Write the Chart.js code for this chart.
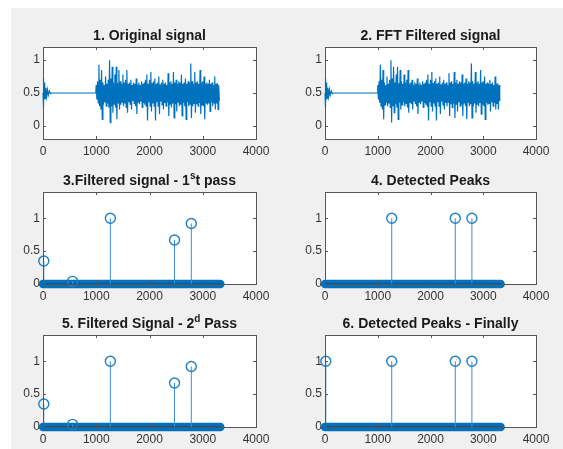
<!DOCTYPE html>
<html>
<head>
<meta charset="utf-8">
<script src="https://cdn.jsdelivr.net/npm/chart.js@4.4.1/dist/chart.umd.min.js"></script>
<style>
  body { margin: 0; background: #fff; width: 563px; height: 449px; overflow: hidden; position: relative; }
  #fig { position: absolute; left: 11px; top: 8px; right: 0; bottom: 0; background: #f0f0f0; }
  canvas { position: absolute; }
</style>
</head>
<body>
<div id="fig"></div>
<canvas id="c1"></canvas>
<canvas id="c2"></canvas>
<canvas id="c3"></canvas>
<canvas id="c4"></canvas>
<canvas id="c5"></canvas>
<canvas id="c6"></canvas>
<script>
// Axis ticks
const xTicks = [0, 1000, 2000, 3000, 4000];
const yTicks = [0, 0.5, 1];

// Signal: start of recording (x, y), then flat until the burst
const introX = [0, 5, 10, 15, 20, 28, 35, 45, 55, 70, 85, 100, 120, 140, 160, 990];
const introY = [0.5, 0.28, 0.72, 0.35, 0.66, 0.4, 0.62, 0.42, 0.58, 0.45, 0.55, 0.47, 0.53, 0.49, 0.5, 0.5];

// Burst from 1000 on, read every 25 samples: upper and lower swing
const burstStart = 1000;
const burstStep = 25;
const burstHi = [0.62, 0.68, 0.93, 0.70, 0.85, 0.66, 0.62, 0.75, 0.64, 0.70,
  1.00, 0.72, 0.90, 0.66, 0.78, 0.90, 0.65, 0.85, 0.68, 0.64,
  0.78, 0.66, 0.70, 0.85, 0.64, 0.66, 0.70, 0.62, 0.66, 0.64,
  0.72, 0.63, 0.66, 0.62, 0.68, 0.64, 0.66, 0.70, 0.78, 0.64,
  0.70, 0.82, 0.65, 0.68, 0.72, 0.64, 0.66, 0.75, 0.63, 0.66,
  0.70, 0.64, 0.66, 0.62, 0.80, 0.66, 0.68, 0.64, 0.82, 0.66,
  0.70, 0.64, 0.68, 0.66, 0.78, 0.64, 0.66, 0.72, 0.64, 0.68,
  0.66, 0.95, 0.68, 0.64, 0.82, 0.66, 0.68, 0.64, 0.85, 0.66,
  0.68, 0.75, 0.64, 0.66, 0.64, 0.70, 0.64, 0.66, 0.62, 0.75,
  0.64, 0.65, 0.62];
const burstLo = [0.40, 0.35, 0.30, 0.25, 0.10, 0.32, 0.36, 0.30, 0.34, 0.28,
  0.05, 0.30, 0.20, 0.33, 0.28, 0.10, 0.35, 0.25, 0.32, 0.36,
  0.30, 0.34, 0.28, 0.20, 0.36, 0.33, 0.25, 0.38, 0.34, 0.30,
  0.18, 0.36, 0.33, 0.37, 0.28, 0.35, 0.32, 0.30, 0.08, 0.36,
  0.30, 0.22, 0.34, 0.30, 0.08, 0.36, 0.30, 0.18, 0.37, 0.32,
  0.25, 0.35, 0.30, 0.36, 0.15, 0.33, 0.28, 0.34, 0.12, 0.33,
  0.22, 0.36, 0.30, 0.32, 0.15, 0.35, 0.30, 0.10, 0.36, 0.30,
  0.33, 0.12, 0.30, 0.34, 0.20, 0.33, 0.30, 0.35, 0.18, 0.32,
  0.30, 0.10, 0.35, 0.32, 0.34, 0.22, 0.36, 0.30, 0.35, 0.25,
  0.34, 0.25, 0.38];

// Stem plots
const pass1X = [15, 555, 1265, 2470, 2785];
const pass1Y = [0.35, 0.04, 1, 0.67, 0.92];
const peaksX = [1265, 2470, 2785];
const peaksY = [1, 1, 1];
const finalX = [15, 1265, 2470, 2785];
const finalY = [1, 1, 1, 1];
const zeroRangeX = [0, 3330];

const blue = '#0072bd';

const signalPoints = introX.map((x, i) => ({ x, y: introY[i] }));
burstHi.forEach((h, i) => {
  const x = burstStart + i * burstStep;
  signalPoints.push({ x, y: h });
  signalPoints.push({ x: x + burstStep / 2, y: burstLo[i] });
});

function signalSets() {
  return [{
    data: signalPoints, showLine: true, borderColor: blue, borderWidth: 1.2,
    pointRadius: 0, clip: false
  }];
}

function stemSets(xs, ys) {
  const sets = [{
    data: xs.map((x, i) => ({ x, y: ys[i] })), showLine: false,
    pointStyle: 'circle', pointRadius: 5, borderColor: '#1f80c4', borderWidth: 1.4,
    backgroundColor: 'rgba(0,0,0,0)', clip: false
  }];
  xs.forEach((x, i) => {
    sets.push({
      data: [{ x, y: 0 }, { x, y: ys[i] }], showLine: true,
      borderColor: '#3d8fcc', borderWidth: 1, pointRadius: 0, clip: false
    });
  });
  sets.push({
    data: zeroRangeX.map(x => ({ x, y: 0 })), showLine: true,
    borderColor: '#1a4a78', borderWidth: 1.5, pointRadius: 0, clip: false
  });
  sets.push({
    data: zeroRangeX.map(x => ({ x, y: 0 })), showLine: true,
    borderColor: blue, borderWidth: 8.5, borderCapStyle: 'round', pointRadius: 0, clip: false
  });
  return sets;
}

// Box, inward ticks and title, MATLAB style
const axesPlugin = {
  id: 'axesBox',
  beforeDatasetsDraw(chart) {
    const { ctx, chartArea: a } = chart;
    ctx.save();
    ctx.fillStyle = '#fff';
    ctx.fillRect(a.left, a.top, a.right - a.left, a.bottom - a.top);
    ctx.restore();
  },
  afterDraw(chart) {
    const { ctx, chartArea: a, scales } = chart;
    ctx.save();
    ctx.strokeStyle = '#555';
    ctx.lineWidth = 1;
    ctx.strokeRect(a.left + 0.5, a.top + 0.5, a.right - a.left, a.bottom - a.top);
    ctx.beginPath();
    xTicks.forEach(v => {
      const px = Math.round(scales.x.getPixelForValue(v)) + 0.5;
      ctx.moveTo(px, a.top); ctx.lineTo(px, a.top + 3);
      ctx.moveTo(px, a.bottom); ctx.lineTo(px, a.bottom - 3);
    });
    yTicks.forEach(v => {
      const py = Math.round(scales.y.getPixelForValue(v)) + 0.5;
      ctx.moveTo(a.left, py); ctx.lineTo(a.left + 3, py);
      ctx.moveTo(a.right, py); ctx.lineTo(a.right - 3, py);
    });
    ctx.stroke();

    const parts = chart.options.plugins.axesBox.title;
    const big = 'bold 14px "Liberation Sans", Arial, sans-serif';
    const small = 'bold 10px "Liberation Sans", Arial, sans-serif';
    let total = 0;
    parts.forEach(p => { ctx.font = p.sup ? small : big; total += ctx.measureText(p.t).width; });
    let x = (a.left + a.right) / 2 - total / 2;
    const y = a.top - 11;
    ctx.fillStyle = '#1a1a1a';
    ctx.textBaseline = 'middle';
    ctx.textAlign = 'left';
    parts.forEach(p => {
      ctx.font = p.sup ? small : big;
      ctx.fillText(p.t, x, p.sup ? y - 5 : y);
      x += ctx.measureText(p.t).width;
    });
    ctx.restore();
  }
};

function makeChart(id, left, top, width, title, datasets, yMin, yMax) {
  const padL = 40, padT = 30, padR = 24, padB = 22;
  const cv = document.getElementById(id);
  cv.width = width + padL + padR;
  cv.height = 92 + padT + padB;
  cv.style.left = (left - padL) + 'px';
  cv.style.top = (top - padT) + 'px';
  cv.style.width = cv.width + 'px';
  cv.style.height = cv.height + 'px';
  const tickFont = { family: '"Liberation Sans", Arial, sans-serif', size: 12 };
  return new Chart(cv, {
    type: 'scatter',
    data: { datasets },
    plugins: [axesPlugin],
    options: {
      responsive: false,
      animation: false,
      events: [],
      layout: { padding: { top: padT, right: padR, left: 0, bottom: 0 } },
      plugins: { legend: { display: false }, tooltip: { enabled: false }, axesBox: { title } },
      scales: {
        x: {
          type: 'linear', min: 0, max: 4000, offset: false,
          grid: { display: false, drawTicks: false }, border: { display: false },
          afterBuildTicks: s => { s.ticks = xTicks.map(v => ({ value: v })); },
          afterFit: s => { s.height = padB; },
          ticks: { padding: 5, color: '#333', font: tickFont, maxRotation: 0, autoSkip: false, callback: v => String(v) }
        },
        y: {
          type: 'linear', min: yMin, max: yMax,
          grid: { display: false, drawTicks: false }, border: { display: false },
          afterBuildTicks: s => { s.ticks = yTicks.map(v => ({ value: v })); },
          afterFit: s => { s.width = padL; },
          ticks: { padding: 3, color: '#333', font: tickFont, autoSkip: false, callback: v => String(v) }
        }
      }
    }
  });
}

makeChart('c1', 43, 47, 213, [{ t: '1. Original signal' }], signalSets(), -0.2, 1.2);
makeChart('c2', 325, 47, 211, [{ t: '2. FFT Filtered signal' }], signalSets(), -0.2, 1.2);
makeChart('c3', 43, 192, 213, [{ t: '3.Filtered signal - 1' }, { t: 's', sup: true }, { t: 't pass' }],
  stemSets(pass1X, pass1Y), 0, 1.4);
makeChart('c4', 325, 192, 211, [{ t: '4. Detected Peaks' }], stemSets(peaksX, peaksY), 0, 1.4);
makeChart('c5', 43, 335, 213, [{ t: '5. Filtered Signal - 2' }, { t: 'd', sup: true }, { t: ' Pass' }],
  stemSets(pass1X, pass1Y), 0, 1.4);
makeChart('c6', 325, 335, 211, [{ t: '6. Detected Peaks - Finally' }], stemSets(finalX, finalY), 0, 1.4);
</script>
</body>
</html>
